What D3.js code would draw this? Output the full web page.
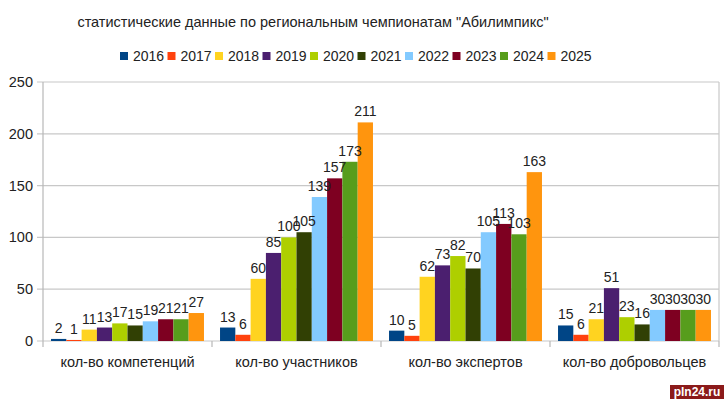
<!DOCTYPE html>
<html lang="ru">
<head>
  <meta charset="utf-8">
  <title>Абилимпикс</title>
  <script src="https://d3js.org/d3.v7.min.js"></script>
  <style>
    body { margin: 0; background: #fff; font-family: "Liberation Sans", Arial, sans-serif; }
    svg { display: block; }
  </style>
</head>
<body>
  <svg width="724" height="399"></svg>
  <script>
    // данные с графика
    const categories = ["кол-во компетенций", "кол-во участников", "кол-во экспертов", "кол-во добровольцев"];
    const years = ["2016", "2017", "2018", "2019", "2020", "2021", "2022", "2023", "2024", "2025"];
    const colors = ["#004586", "#ff420e", "#ffd320", "#4b1f6f", "#aecf00", "#314004", "#83caff", "#7e0021", "#579d1c", "#ff950e"];
    const competencies = [2, 1, 11, 13, 17, 15, 19, 21, 21, 27];
    const participants = [13, 6, 60, 85, 100, 105, 139, 157, 173, 211];
    const experts = [10, 5, 62, 73, 82, 70, 105, 113, 103, 163];
    const volunteers = [15, 6, 21, 51, 23, 16, 30, 30, 30, 30];
    const yTicks = [0, 50, 100, 150, 200, 250];
    const title = "статистические данные по региональным чемпионатам \"Абилимпикс\"";

    const series = [competencies, participants, experts, volunteers];

    const svg = d3.select("svg");
    const margin = { top: 82, right: 5, bottom: 58, left: 43 };
    const width = 724 - margin.left - margin.right;
    const height = 399 - margin.top - margin.bottom;

    const g = svg.append("g").attr("transform", `translate(${margin.left},${margin.top})`);

    const x0 = d3.scaleBand().domain(categories).range([0, width])
      .paddingInner(0.095).paddingOuter(0.0475);
    const x1 = d3.scaleBand().domain(years).range([0, x0.bandwidth()]);
    const y = d3.scaleLinear().domain([0, 250]).range([height, 0]);
    const color = d3.scaleOrdinal(years, colors);

    // сетка
    g.append("g").selectAll("line").data(yTicks).enter().append("line")
      .attr("x1", -6).attr("x2", width)
      .attr("y1", d => y(d)).attr("y2", d => y(d))
      .attr("stroke", "#c8c8c8").attr("stroke-width", 1.2);

    // рамка справа и ось слева
    g.append("line").attr("x1", width).attr("x2", width).attr("y1", 0).attr("y2", height)
      .attr("stroke", "#c8c8c8").attr("stroke-width", 1.2);
    g.append("line").attr("x1", 0).attr("x2", 0).attr("y1", 0).attr("y2", height + 6)
      .attr("stroke", "#b8b8b8").attr("stroke-width", 1.2);

    // подписи оси Y
    g.append("g").selectAll("text").data(yTicks).enter().append("text")
      .attr("x", -10).attr("y", d => y(d)).attr("dy", "0.35em")
      .attr("text-anchor", "end").attr("font-size", 14.5).attr("fill", "#222")
      .text(d => d);

    // засечки категорий
    const bounds = categories.map((c, i) => i * x0.step()).concat([width]);
    g.append("g").selectAll("line").data(bounds.slice(1)).enter().append("line")
      .attr("x1", d => d).attr("x2", d => d).attr("y1", height).attr("y2", height + 6)
      .attr("stroke", "#b8b8b8").attr("stroke-width", 1.2);

    // столбцы
    const groups = g.append("g").selectAll("g").data(categories).enter().append("g")
      .attr("transform", d => `translate(${x0(d)},0)`);

    groups.selectAll("rect")
      .data((c, i) => years.map((yr, j) => ({ year: yr, value: series[i][j] })))
      .enter().append("rect")
      .attr("x", d => x1(d.year))
      .attr("width", x1.bandwidth())
      .attr("y", d => y(d.value))
      .attr("height", d => height - y(d.value))
      .attr("fill", d => color(d.year));

    groups.selectAll("text")
      .data((c, i) => years.map((yr, j) => ({ year: yr, value: series[i][j] })))
      .enter().append("text")
      .attr("x", d => x1(d.year) + x1.bandwidth() / 2)
      .attr("y", d => y(d.value) - 6)
      .attr("text-anchor", "middle").attr("font-size", 14).attr("fill", "#222")
      .text(d => d.value);

    // подписи категорий
    g.append("g").selectAll("text").data(categories).enter().append("text")
      .attr("x", d => x0(d) + x0.bandwidth() / 2)
      .attr("y", height + 26)
      .attr("text-anchor", "middle").attr("font-size", 14.5).attr("fill", "#222")
      .text(d => d);

    // заголовок
    svg.append("text").attr("x", 313).attr("y", 27)
      .attr("text-anchor", "middle").attr("font-size", 14.5).attr("fill", "#222")
      .text(title);

    // легенда
    const legend = svg.append("g").attr("transform", "translate(120,56)");
    const item = legend.selectAll("g").data(years).enter().append("g")
      .attr("transform", (d, i) => `translate(${i * 47.5},0)`);
    item.append("rect").attr("x", 0).attr("y", -4).attr("width", 8).attr("height", 8)
      .attr("fill", d => color(d));
    item.append("text").attr("x", 13).attr("y", 0).attr("dy", "0.35em")
      .attr("font-size", 14).attr("fill", "#222").text(d => d);

    // водяной знак
    svg.append("rect").attr("x", 670).attr("y", 385).attr("width", 54).attr("height", 14).attr("fill", "#8b1a1a");
    svg.append("text").attr("x", 697).attr("y", 396).attr("text-anchor", "middle")
      .attr("font-size", 12).attr("font-weight", "bold").attr("fill", "#fff").text("pln24.ru");
  </script>
</body>
</html>
